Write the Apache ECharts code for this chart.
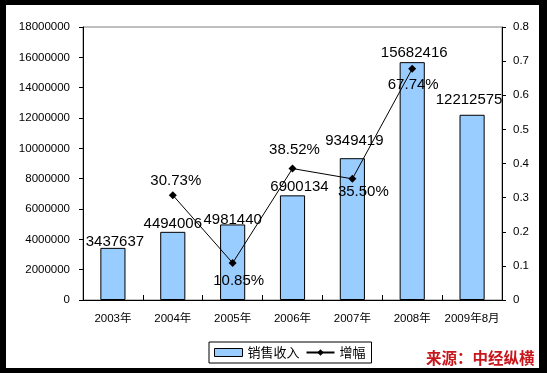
<!DOCTYPE html>
<html>
<head>
<meta charset="utf-8">
<script src="https://cdn.jsdelivr.net/npm/echarts@6/dist/echarts.min.js"></script>
<style>
html,body{margin:0;padding:0;background:#fff;}
#chart{width:547px;height:373px;}
</style>
</head>
<body>
<div id="chart"></div>
<script>
// ---- data ----
var categories = ['2003年','2004年','2005年','2006年','2007年','2008年','2009年8月'];
var salesRevenue = [3437637, 4494006, 4981440, 6900134, 9349419, 15682416, 12212575];
var growthRate = [null, 0.3073, 0.1085, 0.3852, 0.3550, 0.6774, null];
var growthLabels = ['', '30.73%', '10.85%', '38.52%', '35.50%', '67.74%', ''];
var leftTicks = [0, 2000000, 4000000, 6000000, 8000000, 10000000, 12000000, 14000000, 16000000, 18000000];
var rightTicks = [0, 0.1, 0.2, 0.3, 0.4, 0.5, 0.6, 0.7, 0.8];
var seriesNames = ['销售收入', '增幅'];
var sourceText = '来源：中经纵横';

// ---- label layout (presentation only) ----
var barLabelLayout = [
  {d: -1, dx: 2}, {d: 0, dx: 0}, {d: -3, dx: 0}, {d: 1, dx: 7},
  {d: 10, dx: 2}, {d: 2, dx: 2}, {d: 7, dx: -3}
];
var lineLabelLayout = [
  null, {pos: 'top', d: 3, dx: 3}, {pos: 'bottom', d: 6, dx: 6}, {pos: 'top', d: 7, dx: 2},
  {pos: 'bottom', d: 2, dx: 11}, {pos: 'bottom', d: 5, dx: 1}, null
];

var numFont = "'Liberation Sans', Arial, sans-serif";
var cjkFont = "'Liberation Sans', 'Noto Sans CJK SC', sans-serif";

var barData = salesRevenue.map(function (v, i) {
  var L = barLabelLayout[i];
  return {
    value: v,
    label: {show: true, position: 'top', distance: L.d, offset: [L.dx, 0]}
  };
});
var lineData = growthRate.map(function (v, i) {
  var L = lineLabelLayout[i];
  if (v === null) return {value: null};
  return {
    value: v,
    label: {show: true, position: L.pos, distance: L.d, offset: [L.dx, 0],
      formatter: function () { return growthLabels[i]; }}
  };
});

var chart = echarts.init(document.getElementById('chart'), null, {renderer: 'canvas'});
var option = {
  backgroundColor: '#fff',
  animation: false,
  grid: {left: 83, right: 45, top: 27, bottom: 73, show: true, borderColor: '#808080', borderWidth: 1, backgroundColor: 'transparent'},
  legend: {
    left: 209, top: 342,
    padding: [4, 6, 4, 5],
    itemGap: 6,
    itemWidth: 28, itemHeight: 8,
    borderColor: '#000', borderWidth: 1,
    textStyle: {fontFamily: "'Noto Sans CJK SC', sans-serif", fontSize: 13, color: '#000'},
    data: [
      {name: seriesNames[0], icon: 'rect', itemStyle: {color: '#99CCFF', borderColor: '#000', borderWidth: 1}},
      {name: seriesNames[1]}
    ]
  },
  xAxis: {
    type: 'category',
    data: categories,
    boundaryGap: true,
    axisLine: {lineStyle: {color: '#000', width: 1}},
    axisTick: {show: true, inside: true, length: 5, alignWithLabel: false, lineStyle: {color: '#000'}},
    axisLabel: {margin: 13, color: '#000', fontSize: 11.5, fontFamily: cjkFont, interval: 0},
    splitLine: {show: false}
  },
  yAxis: [
    {
      type: 'value', min: leftTicks[0], max: leftTicks[leftTicks.length - 1], interval: leftTicks[1] - leftTicks[0],
      axisLine: {show: true, lineStyle: {color: '#000', width: 1}},
      axisTick: {show: true, inside: false, length: 4, lineStyle: {color: '#000'}},
      axisLabel: {margin: 13, color: '#000', fontSize: 11.5, fontFamily: numFont,
        formatter: function (v) { return String(v); }},
      splitLine: {show: false}
    },
    {
      type: 'value', min: rightTicks[0], max: rightTicks[rightTicks.length - 1], interval: 0.1,
      position: 'right',
      axisLine: {show: true, lineStyle: {color: '#000', width: 1}},
      axisTick: {show: true, inside: false, length: 4, lineStyle: {color: '#000'}},
      axisLabel: {margin: 11, color: '#000', fontSize: 11.5, fontFamily: numFont,
        formatter: function (v) { return v === 0 ? '0' : v.toFixed(1); }},
      splitLine: {show: false}
    }
  ],
  series: [
    {
      name: seriesNames[0],
      type: 'bar',
      yAxisIndex: 0,
      barWidth: '42%',
      itemStyle: {color: '#99CCFF', borderColor: '#000', borderWidth: 1},
      label: {color: '#000', fontSize: 15, fontFamily: numFont},
      data: barData,
      z: 2
    },
    {
      name: seriesNames[1],
      type: 'line',
      yAxisIndex: 1,
      symbol: 'diamond',
      symbolSize: 8,
      showAllSymbol: true,
      connectNulls: false,
      lineStyle: {color: '#000', width: 1},
      itemStyle: {color: '#000'},
      label: {color: '#000', fontSize: 15, fontFamily: numFont},
      data: lineData,
      z: 3
    }
  ],
  graphic: [
    {type: 'rect', left: 0, top: 0, shape: {width: 547, height: 5}, style: {fill: '#000'}, z: 100, silent: true},
    {type: 'rect', left: 0, top: 368, shape: {width: 547, height: 5}, style: {fill: '#000'}, z: 100, silent: true},
    {type: 'rect', left: 0, top: 0, shape: {width: 6, height: 373}, style: {fill: '#000'}, z: 100, silent: true},
    {type: 'rect', left: 539, top: 0, shape: {width: 8, height: 373}, style: {fill: '#000'}, z: 100, silent: true},
    {type: 'text', left: 426, top: 350, z: 101,
      style: {text: sourceText, fill: '#C8161D', font: "bold 15.5px 'Noto Sans CJK SC', sans-serif"}}
  ]
};
chart.setOption(option);
</script>
</body>
</html>
